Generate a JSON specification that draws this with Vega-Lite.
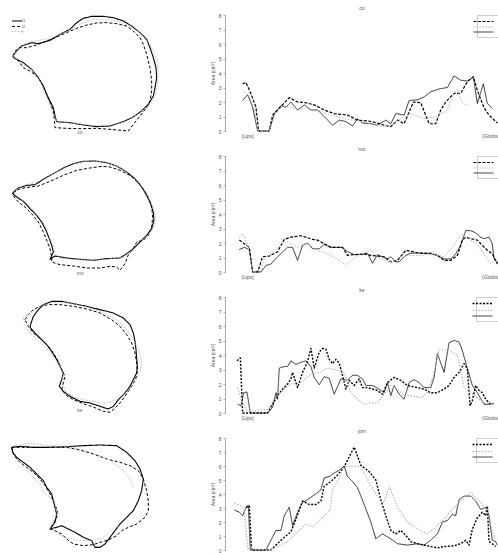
{
"$schema":"https://vega.github.io/schema/vega-lite/v6.json",
"padding":0,
"background":"white",
"config":{"view":{"stroke":null},"font":"Liberation Sans"},
"datasets":{
"tags":[{"w":"co","x":240,"y":393},{"w":"mo","x":240,"y":392},{"w":"ke","x":240,"y":382}],
"curves":[
{"w":"co","s":"A","p":[[15.5,2.1],[17,2.5],[18.5,1.65],[20,0],[23.5,0],[25,1.2],[27,1.75],[28.5,1.65],[30,2.0],[32,1.45],[34,1.8],[36,1.45],[38,1.45],[40,1.0],[42.5,0.4],[44.5,0.75],[46.5,0.65],[48.5,0.35],[50,0.85],[51.5,0.55],[54,0.5],[56,0.4],[58.5,0.75],[60,0.5],[61.5,1.2],[64,1.1],[65.5,2.1],[68,2.15],[70,2.35],[72,2.7],[74.5,2.9],[77,3.0],[79,3.8],[81,3.5],[83,3.45],[84.8,3.7],[86,1.9],[87.8,3.25],[89,1.9],[90.5,1.55]]},
{"w":"co","s":"B","p":[[15.5,3.25],[16.5,3.35],[18,2.55],[19.5,1.65],[20.3,0],[23.5,0],[24.5,1.1],[27,1.7],[29.5,2.3],[32,2.0],[34.5,1.95],[37,1.8],[40,1.45],[43,1.2],[47,1.1],[50,0.75],[53,0.7],[56,0.55],[58,0.4],[60,0.3],[62,0.75],[64,0.5],[65.5,1.3],[66.8,2.0],[69,1.95],[71.5,0.5],[73.5,0.5],[75,1.45],[76.5,2.0],[79,2.6],[81,2.6],[83,3.4],[84.8,3.75],[86,2.8],[88,1.6],[89.5,1.1],[92,0.55]]},
{"w":"co","s":"C","p":[[15.5,2.85],[17.5,2.35],[19,1.6],[20,0],[23.5,0],[25,1.0],[27,1.65],[30,1.65],[32,1.45],[34.5,1.55],[38,1.45],[42,1.1],[46,0.85],[50,0.7],[54,0.5],[57,0.3],[60,0.4],[63,0.85],[66,1.2],[70,0.85],[74,1.0],[77,1.45],[79,2.7],[80,2.9],[81.5,1.9],[83.5,1.75]]},
{"w":"mo","s":"A","p":[[14.5,1.55],[16,1.7],[17.5,1.55],[18.5,0],[21,0],[22.5,0.45],[24,0.55],[26,1.05],[29,1.7],[30.5,1.7],[32,0.8],[33.5,1.85],[35,2.0],[36.5,1.6],[38.5,1.6],[40,1.9],[42,1.7],[44,1.7],[45.5,1.7],[47,1.4],[49,1.2],[51.5,1.2],[53,1.3],[54.5,0.6],[56,1.2],[59,0.9],[60,1.05],[61.5,0.7],[62.5,0.7],[64.5,1.15],[66,1.3],[69,1.3],[72,1.25],[74,1.15],[76,0.9],[78,0.9],[79.5,1.25],[81,1.85],[82.5,2.85],[84,2.85],[85.5,2.7],[87,2.4],[88,2.3],[89.5,2.4],[90.5,1.95],[91,0.9],[91.5,0.8],[92.5,0.55]]},
{"w":"mo","s":"B","p":[[14.5,2.2],[16,1.95],[17.5,1.7],[18.5,0],[20,0],[21.5,1.05],[23.5,1.1],[26,1.4],[28,2.25],[30,2.4],[33,2.5],[34.5,2.4],[36.5,2.25],[38,2.2],[40,1.95],[42,1.7],[44,1.7],[45.5,1.7],[47,1.15],[49,1.2],[52,1.25],[54,1.15],[56,1.1],[58,1.05],[60,0.7],[62,0.8],[64.5,1.5],[66.5,1.4],[69,1.3],[72,1.3],[74,1.15],[76,0.8],[78,0.8],[80,1.15],[81.5,2.2],[82.5,2.4],[84,2.3],[86,2.2],[87,1.95],[89,1.5],[90.5,1.25],[92,0.55]]},
{"w":"mo","s":"C","p":[[14.5,2.4],[15.5,2.65],[17,1.85],[18.5,0],[21,0.2],[22,0.9],[24.5,1.4],[27,1.85],[29,2.1],[32,1.7],[35,1.95],[38,1.5],[41,1.25],[44,0.9],[46.5,0.45],[48,0.8],[51,1.25],[54,1.5],[56,1.05],[59,0.7],[62,0.8],[65,1.15],[69,1.15],[72,1.25],[76,1.05],[79,1.85],[80.5,2.45],[82,2.65],[84,2.2],[86,1.95],[88,1.2],[90,0.55],[91.5,0.9]]},
{"w":"ke","s":"A","p":[[14,0.6],[15,0.5],[15.8,1.4],[16.8,1.45],[17.8,0],[23,0],[24.5,0.4],[25.5,1.4],[26,0.95],[26.5,3.1],[28,3.2],[29,3.2],[30,3.6],[31.5,3.35],[33,3.5],[34.5,3.6],[36,3.2],[37,2.45],[38.5,1.95],[40,2.5],[41.5,2.4],[43,1.3],[45,2.35],[47,2.25],[48.5,2.6],[50,2.6],[51.5,2.35],[52.5,1.9],[54.5,1.9],[56.5,1.65],[58,1.4],[59,2.1],[60,1.2],[61,1.9],[62.5,1.3],[64,0.95],[65.5,2.1],[67,2.3],[68.5,2.1],[70,1.75],[72,1.75],[73,2.45],[74,4.1],[76,2.8],[77.5,4.85],[79,5.0],[80.5,4.9],[81.5,4.3],[83,3.05],[84.5,1.9],[86,1.4],[88,0.6],[89.5,0.6],[91,0.65]]},
{"w":"ke","s":"B","p":[[13.8,3.6],[14.8,3.8],[15.5,0],[23,0],[24.5,0.6],[26,1.2],[27.5,1.65],[29,2.0],[30,2.35],[30.5,2.8],[32,1.75],[33.5,2.8],[34.5,3.3],[35,3.55],[36,4.45],[37,3.1],[38.5,4.2],[39.5,4.45],[40.5,4.4],[41.5,3.7],[42.5,3.4],[43.5,3.7],[44.5,3.45],[45.5,2.6],[46.5,1.65],[47.5,2.25],[49,1.9],[50.5,2.35],[51.5,1.75],[53,1.75],[56,1.55],[57.5,1.3],[59,2.1],[61,2.45],[63,2.25],[65,1.9],[68,1.75],[70,1.65],[72,1.4],[74,1.4],[76,1.65],[77.5,1.9],[79,2.45],[80.5,2.8],[82,3.4],[83,3.05],[83.8,0.5],[84.5,0.85],[85.5,1.9],[86.5,1.55],[87.5,1.4],[88.5,0.95],[90,0.6]]},
{"w":"ke","s":"C","p":[[14,1.75],[15,0.95],[17,0.1],[23,0.25],[25,0.95],[27.5,1.55],[30,2.0],[33,2.1],[36,2.7],[39,2.8],[40.5,3.05],[42,3.05],[44,2.95],[46,2.8],[48,1.4],[50,0.95],[52,0.6],[54,0.7],[56,0.7],[60,1.9],[62,1.65],[64,1.2],[66,1.2],[69,1.05],[71,1.4],[73,2.8],[74.5,4.35],[77,4.35],[80,4.0],[82,1.75],[84,1.4],[86,1.05],[88,0.7],[90,0.6]]},
{"w":"jom","s":"A","p":[[13,2.85],[14.5,2.7],[15.5,2.45],[16.5,3.05],[17.2,3.2],[17.8,0],[22.5,0],[24,0.7],[25.5,1.4],[27,1.4],[28,2.45],[29.5,3.05],[30.5,1.75],[32,2.7],[33.5,3.4],[35,3.6],[36.5,3.85],[38,4.1],[39,4.3],[40,5.15],[41.5,5.25],[43,5.5],[44.5,5.7],[46,6.0],[47,5.25],[48.5,4.9],[50,4.45],[52,3.25],[54,2.0],[55.5,0.8],[57.5,1.15],[60,0.8],[62,0.45],[65,0.35],[68,0.45],[70,0.35],[72,0.7],[74,1.15],[75.5,2.0],[77,2.1],[78.5,2.55],[79.5,2.45],[80.5,3.6],[82,3.85],[84,3.85],[85.5,3.5],[87,2.9],[88.5,3.05],[89.5,2.45],[90.5,0.7],[91.5,0.6],[92,0.35]]},
{"w":"jom","s":"B","p":[[16.5,3.05],[17.5,3.15],[18.2,0],[24,0],[25.5,0.35],[27.5,0.8],[30,1.3],[31.5,2.2],[33.5,3.5],[35.5,3.25],[37.5,3.25],[39,3.5],[40,4.55],[42,4.9],[44,5.35],[46,5.95],[47.5,6.65],[49,7.35],[51,6.05],[53.5,5.6],[55.5,5.0],[57,3.6],[58.5,2.45],[60,1.4],[61.5,1.15],[63,1.4],[64.5,1.05],[66,0.6],[68,0.45],[70,0.35],[72,0.25],[74,0.15],[76,0.25],[79,0.3],[81,0.45],[82.5,0.7],[83.5,0.35],[84.5,1.5],[86,2.3],[87.5,2.7],[88.5,2.45],[89,3.15],[89.5,0.6],[90.5,0.45],[91.5,0.25]]},
{"w":"jom","s":"C","p":[[13,3.35],[15,3.15],[16,2.85],[17,0.1],[24,0],[26,0.25],[29,0.6],[32,1.3],[34.5,1.85],[36.5,1.65],[39,2.2],[41,2.7],[41.8,2.8],[42.5,4.3],[44,4.9],[46,5.95],[49,6.0],[51,5.95],[53.5,4.8],[56,3.85],[58,3.4],[59.5,4.55],[62,3.05],[65,2.0],[68,1.5],[71,1.15],[74,1.75],[76,2.2],[78,2.8],[81,3.5],[84,4.1],[87,3.4],[89,2.7],[90.5,1.3],[91.5,0.8]]}
],
"shapes":[
{"w":"co","s":"A","g":1,"p":[[38,165],[50,150],[65,135],[95,125],[115,128],[150,118],[180,100],[210,85],[230,65],[250,52],[275,46],[310,46],[340,50],[370,60],[395,75],[420,95],[440,115],[450,140],[460,170],[468,200],[470,230],[465,260],[460,285],[445,310],[425,330],[400,348],[370,362],[330,375],[290,377],[250,372],[210,365],[170,362],[165,345],[160,320],[150,300],[140,280],[130,255],[115,230],[95,205],[70,185],[45,172],[38,165]]},
{"w":"co","s":"B","g":1,"p":[[38,168],[55,180],[70,200],[90,210],[110,225],[125,245],[140,280],[150,305],[160,330],[163,355],[165,380],[200,382],[240,383],[290,382],[330,385],[385,390],[400,370],[420,345],[440,320],[450,300],[455,270],[455,240],[450,200],[440,160],[430,130],[420,110],[400,90],[380,75],[350,68],[320,65],[290,66],[260,72],[230,82],[200,95],[170,108],[140,120],[110,132],[80,140],[60,140],[45,150],[38,168]]},
{"w":"co","s":"C","g":1,"p":[[38,165],[55,145],[90,122],[150,112],[200,92],[240,70],[280,55],[330,55],[380,70],[420,95],[450,130],[468,170],[475,210],[472,250],[465,290],[450,310],[420,335],[380,360],[340,372],[300,375],[250,370],[200,365],[170,360],[160,340],[140,290],[120,240],[100,210],[70,190],[38,165]]},
{"w":"mo","s":"A","g":1,"p":[[40,150],[55,138],[80,130],[105,128],[130,112],[160,95],[190,78],[220,65],[250,58],[285,57],[320,62],[350,72],[380,90],[405,110],[425,135],[440,160],[452,185],[460,210],[462,235],[455,260],[440,280],[420,300],[400,320],[380,335],[360,348],[320,350],[280,355],[240,352],[200,348],[165,342],[150,352],[160,330],[155,310],[148,290],[138,265],[125,240],[110,220],[90,200],[70,178],[50,165],[38,155],[40,150]]},
{"w":"mo","s":"B","g":1,"p":[[40,152],[60,140],[90,135],[115,132],[150,118],[190,100],[230,85],[270,78],[305,73],[330,75],[360,85],[390,100],[410,118],[430,140],[445,165],[455,195],[458,225],[455,255],[445,280],[430,295],[410,300],[400,320],[385,338],[375,365],[360,385],[350,375],[330,373],[300,378],[260,378],[220,372],[180,368],[155,360],[155,345],[150,320],[140,295],[130,270],[115,240],[95,215],[75,195],[55,180],[42,165],[40,152]]},
{"w":"mo","s":"C","g":1,"p":[[40,150],[70,130],[110,120],[150,100],[190,80],[230,62],[270,57],[310,60],[350,72],[390,95],[420,125],[440,155],[455,185],[465,220],[465,250],[450,275],[430,290],[410,300],[390,330],[370,345],[320,352],[270,355],[220,352],[180,348],[165,335],[160,310],[150,290],[140,260],[125,235],[100,205],[75,180],[50,160],[40,150]]},
{"w":"ke","s":"A","g":1,"p":[[90,130],[100,100],[115,80],[130,65],[155,55],[185,55],[220,62],[260,70],[300,80],[340,90],[370,105],[390,125],[400,150],[405,175],[408,200],[410,225],[412,250],[410,270],[400,290],[390,310],[375,330],[355,350],[340,370],[325,378],[300,370],[270,360],[240,355],[210,340],[190,325],[178,310],[185,290],[190,270],[180,250],[170,230],[155,205],[140,185],[120,165],[105,150],[92,135],[90,130]]},
{"w":"ke","s":"B","g":1,"p":[[75,110],[85,95],[100,80],[120,70],[145,65],[180,65],[220,70],[260,78],[300,90],[335,110],[360,130],[380,155],[395,180],[405,210],[410,240],[412,265],[408,285],[398,305],[385,325],[375,340],[360,360],[345,375],[330,388],[310,385],[280,372],[250,362],[220,350],[200,338],[185,320],[190,300],[195,280],[185,260],[175,235],[160,210],[145,190],[125,170],[100,150],[85,130],[75,110]]},
{"w":"ke","s":"C","g":1,"p":[[70,105],[90,90],[120,70],[160,58],[210,60],[260,72],[310,90],[350,110],[380,140],[400,170],[415,200],[425,240],[420,270],[405,295],[390,320],[370,335],[350,350],[320,360],[290,358],[260,352],[230,345],[200,330],[185,300],[190,275],[180,250],[160,220],[140,195],[110,170],[90,150],[75,125],[70,105]]},
{"w":"jom","s":"A","g":1,"p":[[35,100],[60,97],[100,100],[140,100],[200,98],[250,95],[300,93],[350,95],[380,115],[405,140],[420,165],[430,195],[425,230],[415,260],[400,290],[380,310],[360,330],[345,350],[330,370],[315,390],[300,400],[285,400],[275,380],[250,370],[225,355],[205,345],[185,335],[170,340],[150,345],[165,325],[170,300],[165,280],[160,260],[155,240],[140,220],[130,200],[110,180],[90,160],[70,145],[50,130],[38,115],[35,100]]},
{"w":"jom","s":"B","g":1,"p":[[35,100],[65,100],[100,100],[150,100],[200,100],[240,108],[280,120],[320,135],[360,145],[390,155],[415,170],[430,195],[440,230],[445,260],[445,290],[435,310],[410,330],[385,340],[365,350],[350,365],[325,378],[300,385],[280,392],[250,395],[220,390],[200,375],[185,360],[165,350],[150,345],[160,330],[170,310],[172,290],[160,260],[150,240],[135,215],[120,195],[100,175],[80,160],[60,145],[42,125],[35,100]]},
{"w":"jom","s":"C","g":1,"p":[[40,95],[90,88],[150,95],[200,97],[250,108],[300,125],[340,145],[370,170],[390,195],[400,220]]},
{"w":"jom","s":"C","g":2,"p":[[355,335],[330,350],[310,370],[280,380],[240,380],[200,370],[170,360],[150,340],[160,320],[170,300],[165,270],[150,250],[130,235],[120,210],[100,190],[80,170]]}
]
},
"spacing":0,
"resolve":{"scale":{"x":"independent","y":"independent","color":"independent","strokeDash":"independent","strokeWidth":"independent"}},
"vconcat":[
{"spacing":30,"resolve":{"scale":{"x":"independent","y":"independent","color":"independent","strokeDash":"independent","strokeWidth":"independent"}},
"hconcat":[
{"width":180,"height":126,
"layer":[
{"data":{"name":"shapes"},"transform":[{"filter":"datum.w == 'co'"},{"flatten":["p"]}],
"mark":{"type":"line","strokeJoin":"round"},
"encoding":{
"x":{"field":"p[0]","type":"quantitative","scale":{"domain":[0,540],"nice":false,"zero":false},"axis":null},
"y":{"field":"p[1]","type":"quantitative","scale":{"domain":[42,420],"nice":false,"zero":false,"reverse":true},"axis":null},
"detail":{"field":"g","type":"nominal"},
"order":{"value":null},
"color":{"field":"s","type":"nominal","scale":{"domain":["A","B","C"],"range":["#000000","#000000","#b4b4b4"]},"legend":{"orient":"none","legendX":14,"legendY":3,"title":null,"labelFontSize":4,"symbolType":"M-2.5,0H2.5","symbolSize":16,"rowPadding":0,"labelOffset":2,"labelColor":"#555","labelExpr":"datum.label=='A'?'l1':datum.label=='B'?'l2':'r'"}},
"strokeDash":{"field":"s","type":"nominal","scale":{"domain":["A","B","C"],"range":[[1,0],[3,2],[1.5,1.5]]},"legend":{"orient":"none","legendX":14,"legendY":3,"title":null,"labelFontSize":4,"symbolType":"M-2.5,0H2.5","symbolSize":16,"rowPadding":0,"labelOffset":2,"labelColor":"#555","labelExpr":"datum.label=='A'?'l1':datum.label=='B'?'l2':'r'"}},
"strokeWidth":{"field":"s","type":"nominal","scale":{"domain":["A","B","C"],"range":[1.1,0.9,0.8]},"legend":null}}},
{"data":{"name":"tags"},"transform":[{"filter":"datum.w == 'co'"}],
"mark":{"type":"text","fontSize":5,"color":"#666"},
"encoding":{"x":{"field":"x","type":"quantitative","scale":{"domain":[0,540],"nice":false,"zero":false},"axis":null},"y":{"field":"y","type":"quantitative","scale":{"domain":[42,420],"nice":false,"zero":false,"reverse":true},"axis":null},"text":{"field":"w"}}}
]},
{"width":274,"height":116,
"title":{"text":["","co"],"fontSize":5,"lineHeight":6,"fontWeight":"normal","color":"#555","offset":2},
"data":{"name":"curves"},"transform":[{"filter":"datum.w == 'co'"},{"flatten":["p"]}],
"mark":{"type":"line","strokeJoin":"round"},
"encoding":{
"x":{"field":"p[0]","type":"quantitative","scale":{"domain":[10.2,92.5],"nice":false,"zero":false},"axis":{"values":[15,92.5],"labelExpr":"datum.value < 50 ? '(Lips)' : '(Glottis)'","labelAlign":{"condition":{"test":"datum.value < 50","value":"left"},"value":"right"},"domain":false,"ticks":false,"grid":false,"title":null,"labelFontSize":5,"labelPadding":2,"labelColor":"#555"}},
"y":{"field":"p[1]","type":"quantitative","scale":{"domain":[0,8],"nice":false},"axis":{"values":[0,1,2,3,4,5,6,7,8],"title":"Area (cm²)","titleFontSize":5,"titleFontWeight":"normal","titleColor":"#555","titlePadding":3,"labelFontSize":5,"labelColor":"#555","labelPadding":2,"tickSize":2,"tickColor":"#aaa","domainColor":"#aaa","grid":false}},
"color":{"field":"s","type":"nominal","scale":{"domain":["B","C","A"],"range":["#000000","#b4b4b4","#000000"]},"legend":{"orient":"top-right","offset":0,"title":null,"labelExpr":"''","labelFontSize":1,"labelOffset":0,"symbolType":"M-4,0H4","symbolSize":25,"symbolStrokeWidth":1,"padding":3,"rowPadding":0,"strokeColor":"#cccccc"}},
"strokeDash":{"field":"s","type":"nominal","scale":{"domain":["B","C","A"],"range":[[3,1.5],[1.5,1.5],[1,0]]},"legend":{"orient":"top-right","offset":0,"title":null,"labelExpr":"''","labelFontSize":1,"labelOffset":0,"symbolType":"M-4,0H4","symbolSize":25,"symbolStrokeWidth":1,"padding":3,"rowPadding":0,"strokeColor":"#cccccc"}},
"strokeWidth":{"field":"s","type":"nominal","scale":{"domain":["B","C","A"],"range":[1.2,0.8,1.4]},"legend":null}}}
]},
{"spacing":30,"resolve":{"scale":{"x":"independent","y":"independent","color":"independent","strokeDash":"independent","strokeWidth":"independent"}},
"hconcat":[
{"width":180,"height":126,
"layer":[
{"data":{"name":"shapes"},"transform":[{"filter":"datum.w == 'mo'"},{"flatten":["p"]}],
"mark":{"type":"line","strokeJoin":"round"},
"encoding":{
"x":{"field":"p[0]","type":"quantitative","scale":{"domain":[0,540],"nice":false,"zero":false},"axis":null},
"y":{"field":"p[1]","type":"quantitative","scale":{"domain":[42,420],"nice":false,"zero":false,"reverse":true},"axis":null},
"detail":{"field":"g","type":"nominal"},
"order":{"value":null},
"color":{"field":"s","type":"nominal","scale":{"domain":["A","B","C"],"range":["#000000","#000000","#b4b4b4"]},"legend":null},
"strokeDash":{"field":"s","type":"nominal","scale":{"domain":["A","B","C"],"range":[[1,0],[3,2],[1.5,1.5]]},"legend":null},
"strokeWidth":{"field":"s","type":"nominal","scale":{"domain":["A","B","C"],"range":[1.1,0.9,0.8]},"legend":null}}},
{"data":{"name":"tags"},"transform":[{"filter":"datum.w == 'mo'"}],
"mark":{"type":"text","fontSize":5,"color":"#666"},
"encoding":{"x":{"field":"x","type":"quantitative","scale":{"domain":[0,540],"nice":false,"zero":false},"axis":null},"y":{"field":"y","type":"quantitative","scale":{"domain":[42,420],"nice":false,"zero":false,"reverse":true},"axis":null},"text":{"field":"w"}}}
]},
{"width":274,"height":116,
"title":{"text":["","mo"],"fontSize":5,"lineHeight":6,"fontWeight":"normal","color":"#555","offset":2},
"data":{"name":"curves"},"transform":[{"filter":"datum.w == 'mo'"},{"flatten":["p"]}],
"mark":{"type":"line","strokeJoin":"round"},
"encoding":{
"x":{"field":"p[0]","type":"quantitative","scale":{"domain":[10.2,92.5],"nice":false,"zero":false},"axis":{"values":[15,92.5],"labelExpr":"datum.value < 50 ? '(Lips)' : '(Glottis)'","labelAlign":{"condition":{"test":"datum.value < 50","value":"left"},"value":"right"},"domain":false,"ticks":false,"grid":false,"title":null,"labelFontSize":5,"labelPadding":2,"labelColor":"#555"}},
"y":{"field":"p[1]","type":"quantitative","scale":{"domain":[0,8],"nice":false},"axis":{"values":[0,1,2,3,4,5,6,7,8],"title":"Area (cm²)","titleFontSize":5,"titleFontWeight":"normal","titleColor":"#555","titlePadding":3,"labelFontSize":5,"labelColor":"#555","labelPadding":2,"tickSize":2,"tickColor":"#aaa","domainColor":"#aaa","grid":false}},
"color":{"field":"s","type":"nominal","scale":{"domain":["B","C","A"],"range":["#000000","#b4b4b4","#000000"]},"legend":{"orient":"top-right","offset":0,"title":null,"labelExpr":"''","labelFontSize":1,"labelOffset":0,"symbolType":"M-4,0H4","symbolSize":25,"symbolStrokeWidth":1,"padding":3,"rowPadding":0,"strokeColor":"#cccccc"}},
"strokeDash":{"field":"s","type":"nominal","scale":{"domain":["B","C","A"],"range":[[3,1.5],[1.5,1.5],[1,0]]},"legend":{"orient":"top-right","offset":0,"title":null,"labelExpr":"''","labelFontSize":1,"labelOffset":0,"symbolType":"M-4,0H4","symbolSize":25,"symbolStrokeWidth":1,"padding":3,"rowPadding":0,"strokeColor":"#cccccc"}},
"strokeWidth":{"field":"s","type":"nominal","scale":{"domain":["B","C","A"],"range":[1.2,0.8,1.4]},"legend":null}}}
]},
{"spacing":30,"resolve":{"scale":{"x":"independent","y":"independent","color":"independent","strokeDash":"independent","strokeWidth":"independent"}},
"hconcat":[
{"width":180,"height":126,
"layer":[
{"data":{"name":"shapes"},"transform":[{"filter":"datum.w == 'ke'"},{"flatten":["p"]}],
"mark":{"type":"line","strokeJoin":"round"},
"encoding":{
"x":{"field":"p[0]","type":"quantitative","scale":{"domain":[0,540],"nice":false,"zero":false},"axis":null},
"y":{"field":"p[1]","type":"quantitative","scale":{"domain":[42,420],"nice":false,"zero":false,"reverse":true},"axis":null},
"detail":{"field":"g","type":"nominal"},
"order":{"value":null},
"color":{"field":"s","type":"nominal","scale":{"domain":["A","B","C"],"range":["#000000","#000000","#b4b4b4"]},"legend":null},
"strokeDash":{"field":"s","type":"nominal","scale":{"domain":["A","B","C"],"range":[[1,0],[3,2],[1.5,1.5]]},"legend":null},
"strokeWidth":{"field":"s","type":"nominal","scale":{"domain":["A","B","C"],"range":[1.1,0.9,0.8]},"legend":null}}},
{"data":{"name":"tags"},"transform":[{"filter":"datum.w == 'ke'"}],
"mark":{"type":"text","fontSize":5,"color":"#666"},
"encoding":{"x":{"field":"x","type":"quantitative","scale":{"domain":[0,540],"nice":false,"zero":false},"axis":null},"y":{"field":"y","type":"quantitative","scale":{"domain":[42,420],"nice":false,"zero":false,"reverse":true},"axis":null},"text":{"field":"w"}}}
]},
{"width":274,"height":116,
"title":{"text":["","ke"],"fontSize":5,"lineHeight":6,"fontWeight":"normal","color":"#555","offset":2},
"data":{"name":"curves"},"transform":[{"filter":"datum.w == 'ke'"},{"flatten":["p"]}],
"mark":{"type":"line","strokeJoin":"round"},
"encoding":{
"x":{"field":"p[0]","type":"quantitative","scale":{"domain":[10.2,92.5],"nice":false,"zero":false},"axis":{"values":[15,92.5],"labelExpr":"datum.value < 50 ? '(Lips)' : '(Glottis)'","labelAlign":{"condition":{"test":"datum.value < 50","value":"left"},"value":"right"},"domain":false,"ticks":false,"grid":false,"title":null,"labelFontSize":5,"labelPadding":2,"labelColor":"#555"}},
"y":{"field":"p[1]","type":"quantitative","scale":{"domain":[0,8],"nice":false},"axis":{"values":[0,1,2,3,4,5,6,7,8],"title":"Area (cm²)","titleFontSize":5,"titleFontWeight":"normal","titleColor":"#555","titlePadding":3,"labelFontSize":5,"labelColor":"#555","labelPadding":2,"tickSize":2,"tickColor":"#aaa","domainColor":"#aaa","grid":false}},
"color":{"field":"s","type":"nominal","scale":{"domain":["B","C","A"],"range":["#000000","#b4b4b4","#000000"]},"legend":{"orient":"top-right","offset":0,"title":null,"labelExpr":"''","labelFontSize":1,"labelOffset":0,"symbolType":"M-4,0H4","symbolSize":25,"symbolStrokeWidth":1,"padding":3,"rowPadding":0,"strokeColor":"#cccccc"}},
"strokeDash":{"field":"s","type":"nominal","scale":{"domain":["B","C","A"],"range":[[2,1.5],[1.5,1.5],[1,0]]},"legend":{"orient":"top-right","offset":0,"title":null,"labelExpr":"''","labelFontSize":1,"labelOffset":0,"symbolType":"M-4,0H4","symbolSize":25,"symbolStrokeWidth":1,"padding":3,"rowPadding":0,"strokeColor":"#cccccc"}},
"strokeWidth":{"field":"s","type":"nominal","scale":{"domain":["B","C","A"],"range":[1.4,0.8,1.4]},"legend":null}}}
]},
{"spacing":30,"resolve":{"scale":{"x":"independent","y":"independent","color":"independent","strokeDash":"independent","strokeWidth":"independent"}},
"hconcat":[
{"width":180,"height":112,
"data":{"name":"shapes"},"transform":[{"filter":"datum.w == 'jom'"},{"flatten":["p"]}],
"mark":{"type":"line","strokeJoin":"round"},
"encoding":{
"x":{"field":"p[0]","type":"quantitative","scale":{"domain":[0,540],"nice":false,"zero":false},"axis":null},
"y":{"field":"p[1]","type":"quantitative","scale":{"domain":[72,408],"nice":false,"zero":false,"reverse":true},"axis":null},
"detail":{"field":"g","type":"nominal"},
"order":{"value":null},
"color":{"field":"s","type":"nominal","scale":{"domain":["A","B","C"],"range":["#000000","#000000","#b4b4b4"]},"legend":null},
"strokeDash":{"field":"s","type":"nominal","scale":{"domain":["A","B","C"],"range":[[1,0],[3,2],[1.5,1.5]]},"legend":null},
"strokeWidth":{"field":"s","type":"nominal","scale":{"domain":["A","B","C"],"range":[1.1,0.9,0.8]},"legend":null}}},
{"width":274,"height":112,
"title":{"text":["","jom"],"fontSize":5,"lineHeight":6,"fontWeight":"normal","color":"#555","offset":2},
"data":{"name":"curves"},"transform":[{"filter":"datum.w == 'jom'"},{"flatten":["p"]}],
"mark":{"type":"line","strokeJoin":"round"},
"encoding":{
"x":{"field":"p[0]","type":"quantitative","scale":{"domain":[10.2,92.5],"nice":false,"zero":false},"axis":null},
"y":{"field":"p[1]","type":"quantitative","scale":{"domain":[0,8],"nice":false},"axis":{"values":[0,1,2,3,4,5,6,7,8],"title":"Area (cm²)","titleFontSize":5,"titleFontWeight":"normal","titleColor":"#555","titlePadding":3,"labelFontSize":5,"labelColor":"#555","labelPadding":2,"tickSize":2,"tickColor":"#aaa","domainColor":"#aaa","grid":false}},
"color":{"field":"s","type":"nominal","scale":{"domain":["B","C","A"],"range":["#000000","#b4b4b4","#000000"]},"legend":{"orient":"top-right","offset":0,"title":null,"labelExpr":"''","labelFontSize":1,"labelOffset":0,"symbolType":"M-4,0H4","symbolSize":25,"symbolStrokeWidth":1,"padding":3,"rowPadding":0,"strokeColor":"#cccccc"}},
"strokeDash":{"field":"s","type":"nominal","scale":{"domain":["B","C","A"],"range":[[2,1.5],[1.5,1.5],[1,0]]},"legend":{"orient":"top-right","offset":0,"title":null,"labelExpr":"''","labelFontSize":1,"labelOffset":0,"symbolType":"M-4,0H4","symbolSize":25,"symbolStrokeWidth":1,"padding":3,"rowPadding":0,"strokeColor":"#cccccc"}},
"strokeWidth":{"field":"s","type":"nominal","scale":{"domain":["B","C","A"],"range":[1.4,0.8,1.4]},"legend":null}}}
]}
]
}
